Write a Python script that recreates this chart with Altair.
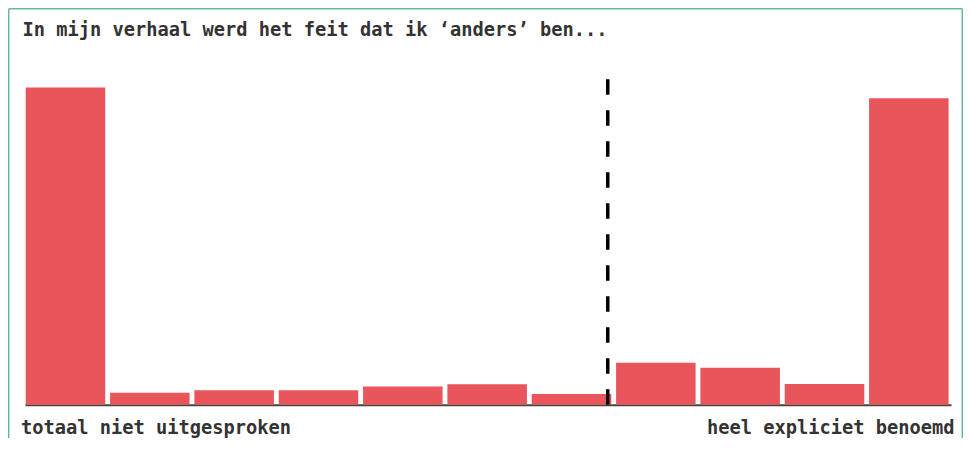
import altair as alt
import pandas as pd

# ---- data ----
categories = list(range(11))
shares = [39.0, 1.48, 1.77, 1.77, 2.24, 2.51, 1.32, 5.16, 4.55, 2.54, 37.66]
mean_position = [6.43]
title_text = ["In mijn verhaal werd het feit dat ik \u2018anders\u2019 ben..."]
left_label = ["totaal niet uitgesproken"]
right_label = ["heel expliciet benoemd"]

# ---- layout / style ----
W, H = 926, 325.4
PAD = {"left": 17, "top": 71.3, "right": 12, "bottom": 33.3}
FONT = "DejaVu Sans Mono"
FONT_SIZE = 18.7
FONT_WEIGHT = "bold"
TEXT_COLOR = "#333333"
BAR_COLOR = "#e8555b"
FRAME_COLOR = "#62b99b"

bars_df = pd.DataFrame({"cat": categories, "share": shares})
x_scale = alt.Scale(domain=[-0.48, 10.5], nice=False, zero=False)
y_scale = alt.Scale(domain=[0, 40], nice=False)

bars = (
    alt.Chart(bars_df)
    .transform_calculate(lo="datum.cat - 0.4715", hi="datum.cat + 0.4715")
    .mark_bar(color=BAR_COLOR)
    .encode(
        x=alt.X(
            "lo:Q",
            scale=x_scale,
            axis=alt.Axis(
                domain=True, ticks=False, labels=False, grid=False, title=None,
                domainColor="#444444", domainWidth=2,
            ),
        ),
        x2="hi:Q",
        y=alt.Y("share:Q", scale=y_scale, axis=None),
        y2=alt.datum(0),
    )
)

rule = (
    alt.Chart(pd.DataFrame({"m": mean_position}))
    .mark_rule(color="black", strokeWidth=3.5, strokeDash=[15.5, 15.5])
    .encode(x=alt.X("m:Q", scale=x_scale))
)

def label(text, align, x, y):
    return (
        alt.Chart(pd.DataFrame({"t": text}))
        .mark_text(align=align, baseline="alphabetic", font=FONT, fontSize=FONT_SIZE,
                   fontWeight=FONT_WEIGHT, color=TEXT_COLOR)
        .encode(text="t:N", x=alt.value(x), y=alt.value(y))
    )

title = label(title_text, "left", -2.5, -43.6)
lab_left = label(left_label, "left", -4.0, 354.2)
lab_right = label(right_label, "right", 929.6, 354.2)

frame_df = pd.DataFrame({"a": [0]})
frame_top = alt.Chart(frame_df).mark_rule(color=FRAME_COLOR, strokeWidth=1.5).encode(
    x=alt.value(-16.3), x2=alt.value(937.3), y=alt.value(-70.6)
)
frame_left = alt.Chart(frame_df).mark_rule(color=FRAME_COLOR, strokeWidth=1.5).encode(
    x=alt.value(-16.3), y=alt.value(-70.6), y2=alt.value(400)
)
frame_right = alt.Chart(frame_df).mark_rule(color=FRAME_COLOR, strokeWidth=1.5).encode(
    x=alt.value(937.3), y=alt.value(-70.6), y2=alt.value(400)
)

chart = (
    alt.layer(bars, rule, title, lab_left, lab_right, frame_top, frame_left, frame_right)
    .properties(width=W, height=H, padding=PAD, autosize=alt.AutoSizeParams(type="none"))
    .configure_view(stroke=None)
)

chart.save("out.html", embed_options={"renderer": "svg", "actions": False})
